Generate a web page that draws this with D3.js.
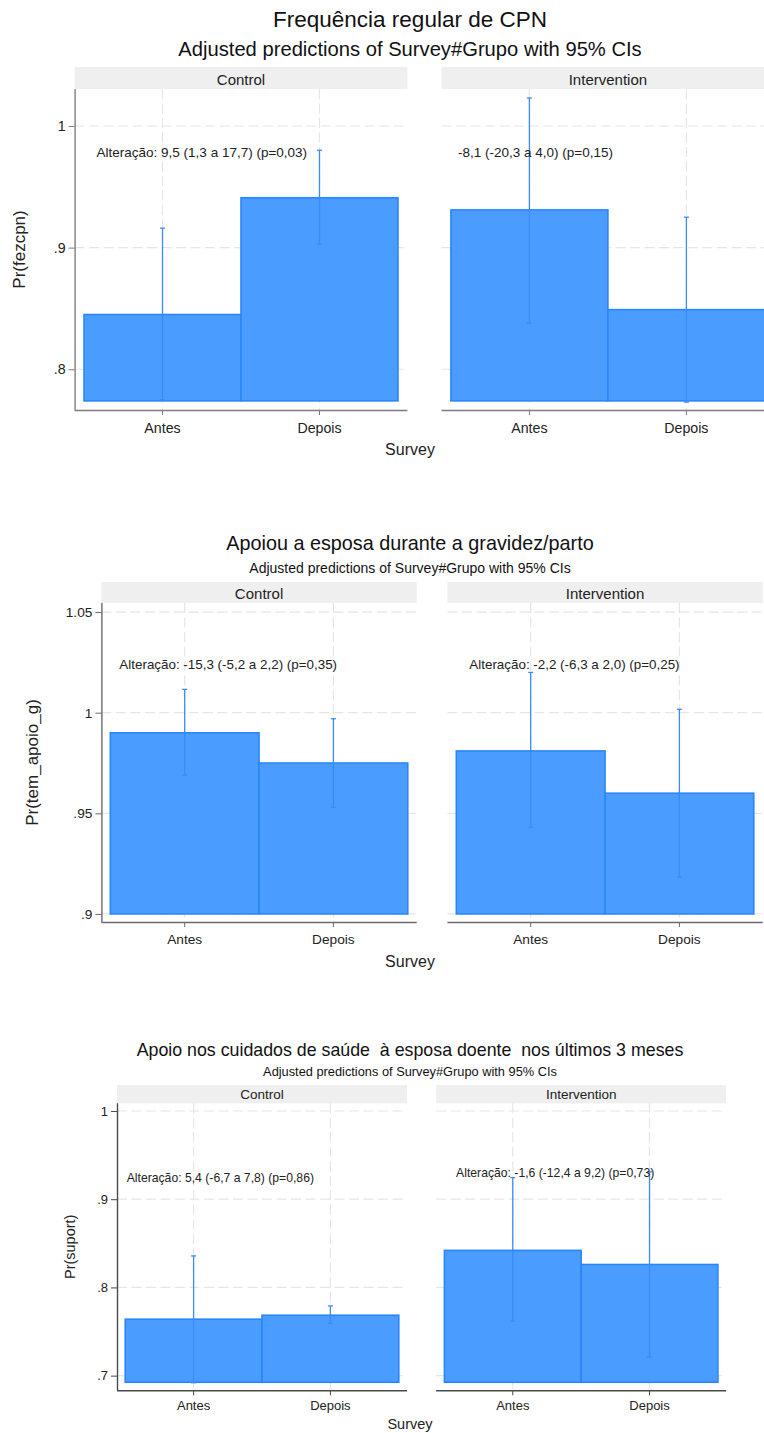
<!DOCTYPE html>
<html>
<head>
<meta charset="utf-8">
<script src="https://cdn.jsdelivr.net/npm/d3@7"></script>
<style>
  html, body { margin: 0; padding: 0; background: #fff; }
  svg text { font-family: "Liberation Sans", Arial, sans-serif; white-space: pre; }
</style>
</head>
<body>
<div id="chart"></div>
<script>
// ---- Categories ----
const surveys = ["Antes", "Depois"];
const groups = ["Control", "Intervention"];

// ---- Frequência regular de CPN : Pr(fezcpn) ----
const cpnTitle = "Frequência regular de CPN";
const cpnYLabel = "Pr(fezcpn)";
const cpnEstControl = [0.845, 0.941];
const cpnLoControl = [0.775, 0.903];
const cpnHiControl = [0.916, 0.980];
const cpnEstInterv = [0.931, 0.849];
const cpnLoInterv = [0.838, 0.773];
const cpnHiInterv = [1.023, 0.925];
const cpnTicks = [0.8, 0.9, 1];
const cpnTickLabels = [".8", ".9", "1"];
const cpnNotes = ["Alteração: 9,5 (1,3 a 17,7) (p=0,03)", "-8,1 (-20,3 a 4,0) (p=0,15)"];

// ---- Apoiou a esposa durante a gravidez/parto : Pr(tem_apoio_g) ----
const apoioTitle = "Apoiou a esposa durante a gravidez/parto";
const apoioYLabel = "Pr(tem_apoio_g)";
const apoioEstControl = [0.990, 0.975];
const apoioLoControl = [0.969, 0.953];
const apoioHiControl = [1.0116, 0.997];
const apoioEstInterv = [0.981, 0.960];
const apoioLoInterv = [0.943, 0.9184];
const apoioHiInterv = [1.020, 1.0017];
const apoioTicks = [0.9, 0.95, 1, 1.05];
const apoioTickLabels = [".9", ".95", "1", "1.05"];
const apoioNotes = ["Alteração: -15,3 (-5,2 a 2,2) (p=0,35)", "Alteração: -2,2 (-6,3 a 2,0) (p=0,25)"];

// ---- Apoio nos cuidados de saúde : Pr(suport) ----
const suportTitle = "Apoio nos cuidados de saúde  à esposa doente  nos últimos 3 meses";
const suportYLabel = "Pr(suport)";
const suportEstControl = [0.764, 0.7685];
const suportLoControl = [0.692, 0.7594];
const suportHiControl = [0.8357, 0.779];
const suportEstInterv = [0.842, 0.826];
const suportLoInterv = [0.7617, 0.721];
const suportHiInterv = [0.9245, 0.931];
const suportTicks = [0.7, 0.8, 0.9, 1];
const suportTickLabels = [".7", ".8", ".9", "1"];
const suportNotes = ["Alteração: 5,4 (-6,7 a 7,8) (p=0,86)", "Alteração: -1,6 (-12,4 a 9,2) (p=0,73)"];

const subtitle = "Adjusted predictions of Survey#Grupo with 95% CIs";
const xTitle = "Survey";

// ---- Styling ----
const barFill = "#4b9cff";
const barStroke = "#2a87fb";
const ciColor = "#3a8cf8";
const gridColor = "#e6e6e6";
const stripFill = "#efefef";

const W = 764, H = 1433;
const svg = d3.select("#chart").append("svg")
  .attr("width", W).attr("height", H)
  .attr("viewBox", `0 0 ${W} ${H}`);
svg.append("rect").attr("width", W).attr("height", H).attr("fill", "#fff");

// Each graph: data, y-range, and its own layout on the page
const graphs = [
  {
    title: cpnTitle, yLabel: cpnYLabel, ticks: cpnTicks, tickLabels: cpnTickLabels,
    est: [cpnEstControl, cpnEstInterv], lo: [cpnLoControl, cpnLoInterv], hi: [cpnHiControl, cpnHiInterv],
    notes: cpnNotes, base: 0.774, yDomain: [0.7665, 1.0304],
    layout: {
      panels: [[74.6, 407.4], [441.5, 774.3]], stripTop: 67, plotTop: 89, plotBottom: 410,
      titleY: 27, titleSize: 22.5, subY: 56, subSize: 20.2, stripTextY: 84.5, stripSize: 15,
      tickSize: 14.2, xLabelY: 432.5, xTitleY: 454.5, xTitleSize: 16, yLabelX: 25, yLabelSize: 17,
      noteSize: 13.5, notePos: [[0.066, 0.978], [0.0496, 0.978]], axisColor: "#7d7d7d"
    }
  },
  {
    title: apoioTitle, yLabel: apoioYLabel, ticks: apoioTicks, tickLabels: apoioTickLabels,
    est: [apoioEstControl, apoioEstInterv], lo: [apoioLoControl, apoioLoInterv], hi: [apoioHiControl, apoioHiInterv],
    notes: apoioNotes, base: 0.9, yDomain: [0.896, 1.0545],
    layout: {
      panels: [[101.4, 416.7], [447.4, 762.7]], stripTop: 582, plotTop: 603, plotBottom: 922,
      titleY: 549.5, titleSize: 19.8, subY: 573, subSize: 14, stripTextY: 598.5, stripSize: 15,
      tickSize: 13.7, xLabelY: 944, xTitleY: 966.5, xTitleSize: 16, yLabelX: 38, yLabelSize: 17,
      noteSize: 13.4, notePos: [[0.057, 1.0242], [0.0695, 1.0242]], axisColor: "#6a6a6a"
    }
  },
  {
    title: suportTitle, yLabel: suportYLabel, ticks: suportTicks, tickLabels: suportTickLabels,
    est: [suportEstControl, suportEstInterv], lo: [suportLoControl, suportLoInterv], hi: [suportHiControl, suportHiInterv],
    notes: suportNotes, base: 0.6925, yDomain: [0.6834, 1.0087],
    layout: {
      panels: [[117, 407], [436.2, 726.1]], stripTop: 1085, plotTop: 1103.3, plotBottom: 1390.3,
      titleY: 1056, titleSize: 17.8, subY: 1076, subSize: 12.8, stripTextY: 1099, stripSize: 13.5,
      tickSize: 13, xLabelY: 1410, xTitleY: 1429, xTitleSize: 14.5, yLabelX: 75, yLabelSize: 14.5,
      noteSize: 12.2, notePos: [[0.0334, 0.9249], [0.0686, 0.930]], axisColor: "#4a4a4a"
    }
  }
];

graphs.forEach(g => drawGraph(g));

function drawGraph(g) {
  const L = g.layout;
  const root = svg.append("g");
  const left = L.panels[0][0];
  const right = L.panels[1][1];
  const cx = 410;

  root.append("text").attr("x", cx).attr("y", L.titleY)
    .attr("text-anchor", "middle").attr("font-size", L.titleSize).attr("fill", "#111")
    .text(g.title);
  root.append("text").attr("x", cx).attr("y", L.subY)
    .attr("text-anchor", "middle").attr("font-size", L.subSize).attr("fill", "#111")
    .text(subtitle);

  const y = d3.scaleLinear().domain(g.yDomain).range([L.plotBottom, L.plotTop]);

  groups.forEach((grp, gi) => {
    const [x0, x1] = L.panels[gi];
    const x = d3.scaleBand().domain(surveys).range([x0, x1]).paddingInner(0).paddingOuter(0.06);
    const bw = x.bandwidth();
    const pg = root.append("g");

    // strip header
    pg.append("rect").attr("x", x0).attr("y", L.stripTop)
      .attr("width", x1 - x0).attr("height", L.plotTop - L.stripTop).attr("fill", stripFill);
    pg.append("text").attr("x", (x0 + x1) / 2).attr("y", L.stripTextY)
      .attr("text-anchor", "middle").attr("font-size", L.stripSize).attr("fill", "#222")
      .text(grp);

    // dashed grid
    pg.append("g").selectAll("line").data(g.ticks).join("line")
      .attr("x1", x0).attr("x2", x1)
      .attr("y1", d => y(d)).attr("y2", d => y(d))
      .attr("stroke", gridColor).attr("stroke-width", 1.2).attr("stroke-dasharray", "10,4.5");
    pg.append("g").selectAll("line").data(surveys).join("line")
      .attr("x1", d => x(d) + bw / 2).attr("x2", d => x(d) + bw / 2)
      .attr("y1", L.plotTop).attr("y2", L.plotBottom)
      .attr("stroke", gridColor).attr("stroke-width", 1.2).attr("stroke-dasharray", "10,4.5");

    // bars
    const rows = surveys.map((s, i) => ({
      s, est: g.est[gi][i], lo: g.lo[gi][i], hi: g.hi[gi][i]
    }));
    pg.append("g").selectAll("rect").data(rows).join("rect")
      .attr("x", d => x(d.s)).attr("width", bw)
      .attr("y", d => y(d.est)).attr("height", d => y(g.base) - y(d.est))
      .attr("fill", barFill).attr("stroke", barStroke).attr("stroke-width", 1.6);

    // confidence intervals
    const ci = pg.append("g").attr("stroke", ciColor).attr("stroke-width", 1.3);
    ci.selectAll("line.v").data(rows).join("line").attr("class", "v")
      .attr("x1", d => x(d.s) + bw / 2).attr("x2", d => x(d.s) + bw / 2)
      .attr("y1", d => y(d.lo)).attr("y2", d => y(d.hi));
    ["lo", "hi"].forEach(k => {
      ci.selectAll("line." + k).data(rows).join("line").attr("class", k)
        .attr("x1", d => x(d.s) + bw / 2 - 2.5).attr("x2", d => x(d.s) + bw / 2 + 2.5)
        .attr("y1", d => y(d[k])).attr("y2", d => y(d[k]));
    });

    // x axis
    const xAxis = d3.axisBottom(x).tickSize(5).tickPadding(6);
    const ax = pg.append("g").attr("transform", `translate(0,${L.plotBottom})`).call(xAxis);
    ax.select(".domain").attr("d", `M${x0},0.5H${x1}`).attr("stroke", L.axisColor).attr("stroke-width", 1.4);
    ax.selectAll(".tick line").attr("stroke", L.axisColor);
    ax.selectAll(".tick text").remove();
    surveys.forEach(s => {
      pg.append("text").attr("x", x(s) + bw / 2).attr("y", L.xLabelY)
        .attr("text-anchor", "middle").attr("font-size", L.tickSize).attr("fill", "#222")
        .text(s);
    });

    // change annotation
    const [fx, vy] = L.notePos[gi];
    pg.append("text").attr("x", x0 + fx * (x1 - x0)).attr("y", y(vy)).attr("dy", "0.35em")
      .attr("font-size", L.noteSize).attr("fill", "#222")
      .text(g.notes[gi]);

    // y axis only on the first panel
    if (gi === 0) {
      const yAxis = d3.axisLeft(y).tickValues(g.ticks)
        .tickFormat((d, i) => g.tickLabels[i]).tickSize(6).tickPadding(3);
      const ay = pg.append("g").attr("transform", `translate(${x0},0)`).call(yAxis);
      ay.select(".domain").attr("d", `M0.5,${L.plotTop}V${L.plotBottom}`)
        .attr("stroke", L.axisColor).attr("stroke-width", 1.4);
      ay.selectAll(".tick line").attr("stroke", L.axisColor);
      ay.selectAll(".tick text").attr("font-size", L.tickSize).attr("fill", "#222")
        .attr("font-family", "\"Liberation Sans\", Arial, sans-serif");
    }
  });

  // axis titles
  root.append("text").attr("x", cx).attr("y", L.xTitleY)
    .attr("text-anchor", "middle").attr("font-size", L.xTitleSize).attr("fill", "#222")
    .text(xTitle);
  const ymid = (L.plotTop + L.plotBottom) / 2;
  root.append("text")
    .attr("transform", `translate(${L.yLabelX},${ymid}) rotate(-90)`)
    .attr("text-anchor", "middle").attr("font-size", L.yLabelSize).attr("fill", "#222")
    .text(g.yLabel);
}
</script>
</body>
</html>
